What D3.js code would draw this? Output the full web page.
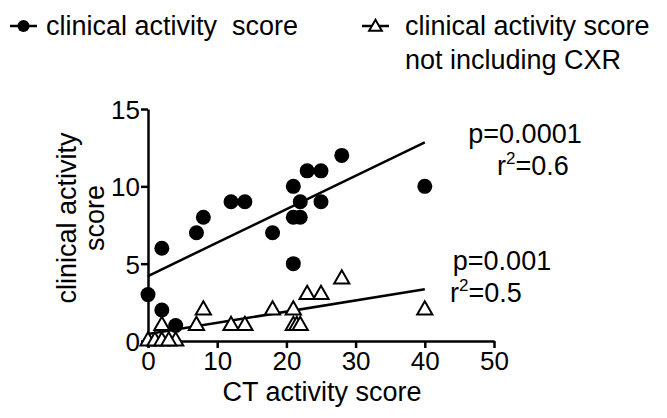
<!DOCTYPE html>
<html>
<head>
<meta charset="utf-8">
<script src="https://cdn.jsdelivr.net/npm/d3@7"></script>
<style>
  body { margin: 0; background: #fff; }
  text { font-family: "Liberation Sans", Arial, sans-serif; fill: #000; }
</style>
</head>
<body>
<div id="chart"></div>
<script>
// CT activity score (x) vs clinical activity score (y)
const ctScore = [0, 2, 2, 4, 7, 8, 12, 14, 18, 21, 21, 21, 22, 22, 23, 25, 25, 28, 40]
const clinicalScore = [3, 6, 2, 1, 7, 8, 9, 9, 7, 10, 5, 8, 8, 9, 11, 11, 9, 12, 10]
const ctScoreNoCxr = [0, 1, 2, 4, 2, 7, 8, 12, 14, 18, 21, 21, 21.5, 22, 23, 25, 28, 40, 3]
const clinicalNoCxr = [0, 0, 0, 0, 1, 1, 2, 1, 1, 2, 2, 1, 1, 1, 3, 3, 4, 2, 0]

// fitted lines: [x start, y start, x end, y end]
const fitClinical = [0, 4.2, 40, 12.85]
const fitNoCxr = [0, 0.45, 40, 3.35]

const xTicks = [0, 10, 20, 30, 40, 50]
const yTicks = [0, 5, 10, 15]

const width = 667, height = 418
const fontSize = 27

let svg = d3.select("#chart")
    .append("svg")
    .attr("width", width)
    .attr("height", height)

let x = d3.scaleLinear().domain([0, 50]).range([148, 494])
let y = d3.scaleLinear().domain([0, 15]).range([341, 109])

function label(g, str, px, py, anchor) {
    return g.append("text")
        .attr("x", px).attr("y", py)
        .attr("text-anchor", anchor || "start")
        .style("font-size", fontSize + "px")
        .text(str)
}

// axes
let xAxis = svg.append("g")
    .attr("transform", "translate(0," + y(0) + ")")
    .call(d3.axisBottom(x).tickValues(xTicks).tickSize(7).tickPadding(3).tickSizeOuter(0))
let yAxis = svg.append("g")
    .attr("transform", "translate(" + x(0) + ",0)")
    .call(d3.axisLeft(y).tickValues(yTicks).tickSize(7).tickPadding(1).tickSizeOuter(0))

svg.selectAll(".domain, .tick line")
    .attr("stroke", "#000")
    .attr("stroke-width", 2.5)
svg.selectAll(".tick text")
    .style("font-family", "Liberation Sans, Arial, sans-serif")
    .style("font-size", "26px")
    .attr("fill", "#000")
xAxis.selectAll(".tick text").attr("dy", "0.74em")
yAxis.selectAll(".tick text").attr("dy", "0.36em")

// fit lines
function drawFit(f) {
    svg.append("line")
        .attr("x1", x(f[0])).attr("y1", y(f[1]))
        .attr("x2", x(f[2])).attr("y2", y(f[3]))
        .attr("stroke", "#000")
        .attr("stroke-width", 2.5)
}
drawFit(fitClinical)
drawFit(fitNoCxr)

// triangles (open)
const tri = d3.symbol().type(d3.symbolTriangle).size(100)
svg.append("g").selectAll("path")
    .data(ctScoreNoCxr.map((d, i) => [d, clinicalNoCxr[i]]))
    .enter()
    .append("path")
    .attr("d", tri)
    .attr("transform", d => "translate(" + x(d[0]) + "," + y(d[1]) + ")")
    .attr("fill", "#fff")
    .attr("stroke", "#000")
    .attr("stroke-width", 2)

// filled circles
svg.append("g").selectAll("circle")
    .data(ctScore.map((d, i) => [d, clinicalScore[i]]))
    .enter()
    .append("circle")
    .attr("cx", d => x(d[0]))
    .attr("cy", d => y(d[1]))
    .attr("r", 7.5)
    .attr("fill", "#000")

// axis titles
label(svg, "CT activity score", 322, 401, "middle")

let yTitle = svg.append("g").attr("transform", "translate(0,218) rotate(-90)")
label(yTitle, "clinical activity", 0, 76, "middle")
label(yTitle, "score", 0, 104, "middle")

// stats
function rSquared(px, py, val) {
    let t = svg.append("text").attr("x", px).attr("y", py).style("font-size", fontSize + "px")
    t.append("tspan").text("r")
    t.append("tspan").attr("dy", -11).style("font-size", "17px").text("2")
    t.append("tspan").attr("dy", 11).text("=" + val)
}
label(svg, "p=0.0001", 525, 143, "middle")
rSquared(497, 175, "0.6")
label(svg, "p=0.001", 502, 270, "middle")
rSquared(450, 302, "0.5")

// legend
let lg = svg.append("g")
lg.append("line").attr("x1", 10).attr("x2", 37).attr("y1", 26).attr("y2", 26)
    .attr("stroke", "#000").attr("stroke-width", 2.5)
lg.append("circle").attr("cx", 23.5).attr("cy", 26).attr("r", 6).attr("fill", "#000")
label(lg, "clinical activity  score", 46, 35).attr("xml:space", "preserve")

lg.append("line").attr("x1", 362).attr("x2", 389).attr("y1", 26).attr("y2", 26)
    .attr("stroke", "#000").attr("stroke-width", 2.5)
lg.append("path").attr("d", d3.symbol().type(d3.symbolTriangle).size(70))
    .attr("transform", "translate(375.5,27)")
    .attr("fill", "#fff").attr("stroke", "#000").attr("stroke-width", 2)
label(lg, "clinical activity score", 405, 35)
label(lg, "not including CXR", 405, 69)
</script>
</body>
</html>
